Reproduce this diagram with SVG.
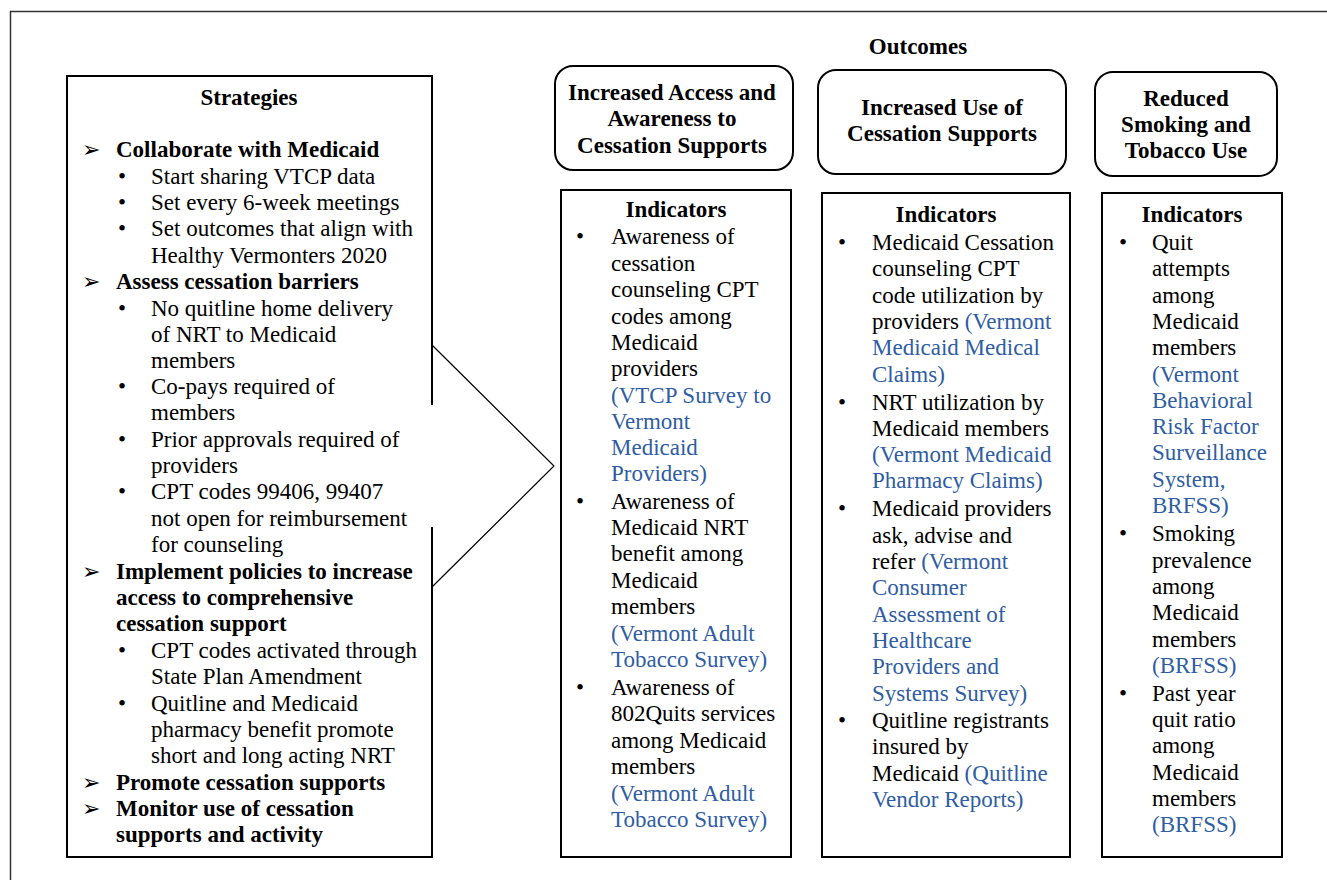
<svg xmlns="http://www.w3.org/2000/svg" width="1327" height="880" viewBox="0 0 1327 880">
<style>
text{font-family:"Liberation Serif","Times New Roman",serif;font-size:23px;fill:#000}
.b{font-weight:bold}
.c{text-anchor:middle}
.s{fill:#2F5DA3}
.ar{font-family:"DejaVu Sans",sans-serif;font-size:22px}
.box{fill:#fff;stroke:#000;stroke-width:2}
.rbox{fill:#fff;stroke:#000;stroke-width:2}
</style>
<rect width="1327" height="880" fill="#fff"/>
<path d="M10.5,880 V11.5 H1327" fill="none" stroke="#333" stroke-width="1.5"/>

<g id="strategies">
<path d="M432,405 V76 H67 V857 H432 V527" fill="none" stroke="#000" stroke-width="2"/>
<text class="b c" x="249" y="105">Strategies</text>
<g>
<text class="ar" x="82" y="157">➢</text><text class="b" x="116" y="157">Collaborate with Medicaid</text>
<text x="118" y="184">•</text><text x="151" y="184">Start sharing VTCP data</text>
<text x="118" y="210">•</text><text x="151" y="210">Set every 6-week meetings</text>
<text x="118" y="236">•</text><text x="151" y="236">Set outcomes that align with</text>
<text x="151" y="263">Healthy Vermonters 2020</text>
<text class="ar" x="82" y="289">➢</text><text class="b" x="116" y="289">Assess cessation barriers</text>
<text x="118" y="316">•</text><text x="151" y="316">No quitline home delivery</text>
<text x="151" y="342">of NRT to Medicaid</text>
<text x="151" y="368">members</text>
<text x="118" y="394">•</text><text x="151" y="394">Co-pays required of</text>
<text x="151" y="420">members</text>
<text x="118" y="447">•</text><text x="151" y="447">Prior approvals required of</text>
<text x="151" y="473">providers</text>
<text x="118" y="499">•</text><text x="151" y="499">CPT codes 99406, 99407</text>
<text x="151" y="526">not open for reimbursement</text>
<text x="151" y="552">for counseling</text>
<text class="ar" x="82" y="579">➢</text><text class="b" x="116" y="579">Implement policies to increase</text>
<text class="b" x="116" y="605">access to comprehensive</text>
<text class="b" x="116" y="631">cessation support</text>
<text x="118" y="658">•</text><text x="151" y="658">CPT codes activated through</text>
<text x="151" y="684">State Plan Amendment</text>
<text x="118" y="711">•</text><text x="151" y="711">Quitline and Medicaid</text>
<text x="151" y="737">pharmacy benefit promote</text>
<text x="151" y="763">short and long acting NRT</text>
<text class="ar" x="82" y="790">➢</text><text class="b" x="116" y="790">Promote cessation supports</text>
<text class="ar" x="82" y="816">➢</text><text class="b" x="116" y="816">Monitor use of cessation</text>
<text class="b" x="116" y="842">supports and activity</text>
</g>
</g>

<g id="connectors">
<polyline points="432,345 554,466 432,587" fill="none" stroke="#000" stroke-width="1.2"/>
</g>

<g id="outcomes-title">
<text class="b c" x="918" y="54">Outcomes</text>
</g>

<g id="outcome1">
<rect class="rbox" x="555" y="66" width="238" height="104" rx="18"/>
<text class="b c" x="672" y="100">Increased Access and</text>
<text class="b c" x="672" y="126">Awareness to</text>
<text class="b c" x="672" y="153">Cessation Supports</text>
</g>
<g id="outcome2">
<rect class="rbox" x="818" y="70" width="248" height="104" rx="18"/>
<text class="b c" x="942" y="115">Increased Use of</text>
<text class="b c" x="942" y="141">Cessation Supports</text>
</g>
<g id="outcome3">
<rect class="rbox" x="1095" y="72" width="182" height="104" rx="18"/>
<text class="b c" x="1186" y="106">Reduced</text>
<text class="b c" x="1186" y="132">Smoking and</text>
<text class="b c" x="1186" y="158">Tobacco Use</text>
</g>

<g id="indicators1">
<rect class="box" x="561" y="190" width="230" height="667"/>
<text class="b c" x="676" y="217">Indicators</text>
<text x="576" y="244">•</text><text x="611" y="244">Awareness of</text>
<text x="611" y="271">cessation</text>
<text x="611" y="297">counseling CPT</text>
<text x="611" y="324">codes among</text>
<text x="611" y="350">Medicaid</text>
<text x="611" y="376">providers</text>
<text class="s" x="611" y="403">(VTCP Survey to</text>
<text class="s" x="611" y="429">Vermont</text>
<text class="s" x="611" y="455">Medicaid</text>
<text class="s" x="611" y="481">Providers)</text>
<text x="576" y="509">•</text><text x="611" y="509">Awareness of</text>
<text x="611" y="535">Medicaid NRT</text>
<text x="611" y="561">benefit among</text>
<text x="611" y="588">Medicaid</text>
<text x="611" y="614">members</text>
<text class="s" x="611" y="641">(Vermont Adult</text>
<text class="s" x="611" y="667">Tobacco Survey)</text>
<text x="576" y="695">•</text><text x="611" y="695">Awareness of</text>
<text x="611" y="721">802Quits services</text>
<text x="611" y="748">among Medicaid</text>
<text x="611" y="774">members</text>
<text class="s" x="611" y="801">(Vermont Adult</text>
<text class="s" x="611" y="827">Tobacco Survey)</text>
</g>

<g id="indicators2">
<rect class="box" x="822" y="193" width="248" height="664"/>
<text class="b c" x="946" y="222">Indicators</text>
<text x="838" y="250">•</text><text x="872" y="250">Medicaid Cessation</text>
<text x="872" y="276">counseling CPT</text>
<text x="872" y="303">code utilization by</text>
<text x="872" y="329">providers <tspan class="s">(Vermont</tspan></text>
<text class="s" x="872" y="355">Medicaid Medical</text>
<text class="s" x="872" y="382">Claims)</text>
<text x="838" y="410">•</text><text x="872" y="410">NRT utilization by</text>
<text x="872" y="436">Medicaid members</text>
<text class="s" x="872" y="462">(Vermont Medicaid</text>
<text class="s" x="872" y="488">Pharmacy Claims)</text>
<text x="838" y="516">•</text><text x="872" y="516">Medicaid providers</text>
<text x="872" y="543">ask, advise and</text>
<text x="872" y="569">refer <tspan class="s">(Vermont</tspan></text>
<text class="s" x="872" y="595">Consumer</text>
<text class="s" x="872" y="622">Assessment of</text>
<text class="s" x="872" y="648">Healthcare</text>
<text class="s" x="872" y="674">Providers and</text>
<text class="s" x="872" y="701">Systems Survey)</text>
<text x="838" y="728">•</text><text x="872" y="728">Quitline registrants</text>
<text x="872" y="754">insured by</text>
<text x="872" y="781">Medicaid <tspan class="s">(Quitline</tspan></text>
<text class="s" x="872" y="807">Vendor Reports)</text>
</g>

<g id="indicators3">
<rect class="box" x="1102" y="193" width="180" height="664"/>
<text class="b c" x="1192" y="222">Indicators</text>
<text x="1119" y="250">•</text><text x="1152" y="250">Quit</text>
<text x="1152" y="276">attempts</text>
<text x="1152" y="303">among</text>
<text x="1152" y="329">Medicaid</text>
<text x="1152" y="355">members</text>
<text class="s" x="1152" y="382">(Vermont</text>
<text class="s" x="1152" y="408">Behavioral</text>
<text class="s" x="1152" y="434">Risk Factor</text>
<text class="s" x="1152" y="460">Surveillance</text>
<text class="s" x="1152" y="487">System,</text>
<text class="s" x="1152" y="513">BRFSS)</text>
<text x="1119" y="541">•</text><text x="1152" y="541">Smoking</text>
<text x="1152" y="568">prevalence</text>
<text x="1152" y="594">among</text>
<text x="1152" y="620">Medicaid</text>
<text x="1152" y="647">members</text>
<text class="s" x="1152" y="673">(BRFSS)</text>
<text x="1119" y="701">•</text><text x="1152" y="701">Past year</text>
<text x="1152" y="727">quit ratio</text>
<text x="1152" y="753">among</text>
<text x="1152" y="780">Medicaid</text>
<text x="1152" y="806">members</text>
<text class="s" x="1152" y="832">(BRFSS)</text>
</g>
</svg>
